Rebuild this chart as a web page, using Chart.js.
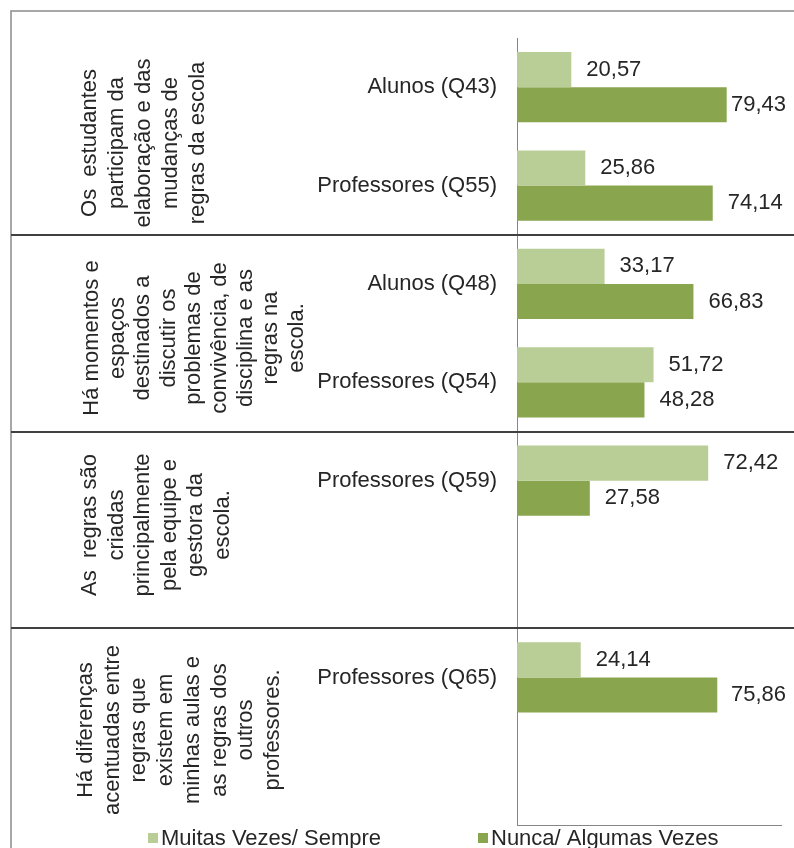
<!DOCTYPE html>
<html>
<head>
<meta charset="utf-8">
<script src="https://cdn.jsdelivr.net/npm/chart.js@4"></script>
<style>
  html, body { margin: 0; padding: 0; background: #ffffff; }
  #wrap { width: 794px; height: 848px; overflow: hidden; }
</style>
</head>
<body>
<div id="wrap"><canvas id="c" width="794" height="848"></canvas></div>
<script>
// ---- data ----
const categories = ["Alunos (Q43)", "Professores (Q55)", "Alunos (Q48)", "Professores (Q54)", "Professores (Q59)", "", "Professores (Q65)", ""];
const muitasVezes = [20.57, 25.86, 33.17, 51.72, 72.42, null, 24.14, null];
const nuncaAlgumas = [79.43, 74.14, 66.83, 48.28, 27.58, null, 75.86, null];
const seriesNames = ["Muitas Vezes/ Sempre", "Nunca/ Algumas Vezes"];
const groupTexts = [
  ["Os  estudantes", "participam da", "elaboração e das", "mudanças de", "regras da escola"],
  ["Há momentos e", "espaços", "destinados a", "discutir os", "problemas de", "convivência, de", "disciplina e as", "regras na", "escola."],
  ["As  regras são", "criadas", "principalmente", "pela equipe e", "gestora da", "escola."],
  ["Há diferenças", "acentuadas entre", "regras que", "existem em", "minhas aulas e", "as regras dos", "outros", "professores."]
];

const FONT = '"Liberation Sans", Arial, sans-serif';
const LIGHT = '#B9CD96';
const DARK = '#89A54E';

const decorPlugin = {
  id: 'decor',
  afterDraw(chart) {
    const ctx = chart.ctx;
    const y = chart.scales.y;
    const area = chart.chartArea;
    ctx.save();

    // value labels
    ctx.font = '22px ' + FONT;
    ctx.fillStyle = '#262626';
    ctx.textAlign = 'left';
    ctx.textBaseline = 'middle';
    chart.data.datasets.forEach((ds, di) => {
      const meta = chart.getDatasetMeta(di);
      meta.data.forEach((bar, i) => {
        const v = ds.data[i];
        if (v == null) return;
        const x = Math.min(bar.x + 15, area.right - 50);
        ctx.fillText(v.toFixed(2).replace('.', ','), x, bar.y);
      });
    });

    // outer frame (top + left)
    ctx.strokeStyle = '#8a8a8a';
    ctx.lineWidth = 1.5;
    ctx.beginPath();
    ctx.moveTo(11, 848);
    ctx.lineTo(11, 11);
    ctx.lineTo(794, 11);
    ctx.stroke();

    // group separators at category boundaries
    ctx.strokeStyle = '#404040';
    ctx.lineWidth = 2;
    [1, 3, 5].forEach(i => {
      const yy = Math.round((y.getPixelForValue(i) + y.getPixelForValue(i + 1)) / 2);
      ctx.beginPath();
      ctx.moveTo(11, yy);
      ctx.lineTo(794, yy);
      ctx.stroke();
    });

    // rotated group descriptions
    const centers = [143, 338, 525, 730];
    const firstX = [90, 92, 90, 86];
    const lineH = [27, 25.6, 26.6, 26.7];
    ctx.fillStyle = '#262626';
    ctx.font = '22px ' + FONT;
    ctx.textAlign = 'center';
    ctx.textBaseline = 'middle';
    groupTexts.forEach((lines, g) => {
      ctx.save();
      ctx.translate(firstX[g], centers[g]);
      ctx.rotate(-Math.PI / 2);
      lines.forEach((ln, k) => ctx.fillText(ln, 0, k * lineH[g]));
      ctx.restore();
    });

    // legend
    const legendX = [148, 478];
    ctx.textAlign = 'left';
    ctx.textBaseline = 'middle';
    chart.data.datasets.forEach((ds, di) => {
      ctx.fillStyle = ds.backgroundColor;
      ctx.fillRect(legendX[di], 833, 10, 10);
      ctx.fillStyle = '#262626';
      ctx.fillText(ds.label, legendX[di] + 13, 839);
    });
    ctx.restore();
  }
};

new Chart(document.getElementById('c'), {
  type: 'bar',
  data: {
    labels: categories,
    datasets: [
      { label: seriesNames[0], data: muitasVezes, backgroundColor: LIGHT },
      { label: seriesNames[1], data: nuncaAlgumas, backgroundColor: DARK }
    ]
  },
  options: {
    indexAxis: 'y',
    responsive: false,
    animation: false,
    devicePixelRatio: 1,
    layout: { padding: { top: 38, right: 13, bottom: 23, left: 0 } },
    datasets: { bar: { categoryPercentage: 0.715, barPercentage: 1.0 } },
    plugins: { legend: { display: false }, tooltip: { enabled: false } },
    scales: {
      x: {
        min: 0, max: 100,
        grid: { display: false, drawTicks: false },
        border: { display: true, color: '#868686', width: 1 },
        ticks: { display: false },
        afterFit(s) { s.height = 0; s.paddingLeft = 0; s.paddingRight = 0; }
      },
      y: {
        grid: { display: false, drawTicks: false },
        border: { display: true, color: '#868686', width: 1 },
        ticks: { padding: 20, color: '#262626', font: { family: FONT, size: 22 } },
        afterFit(s) { s.width = 517; s.paddingTop = 0; s.paddingBottom = 0; }
      }
    }
  },
  plugins: [decorPlugin]
});
</script>
</body>
</html>
